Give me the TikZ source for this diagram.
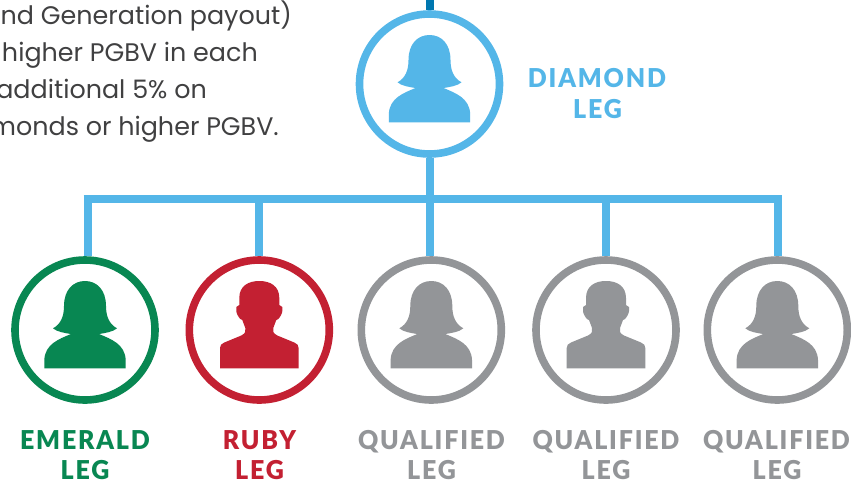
\documentclass[tikz,border=0pt]{standalone}
\usepackage{fontspec}
\setmainfont{Poppins}
\newfontfamily\lblfont[LetterSpace=7,FakeStretch=0.96]{Lato Black}
\definecolor{cblue}{HTML}{54B6E8}
\definecolor{cdark}{HTML}{0077B0}
\definecolor{cgreen}{HTML}{088752}
\definecolor{cred}{HTML}{C32032}
\definecolor{cgray}{HTML}{939598}
\definecolor{ctext}{HTML}{404041}
\tikzset{
  x=1pt,y=-1pt,
  ring/.style={circle,draw=#1,line width=7.6pt,fill=white,minimum size=140pt,inner sep=0pt,outer sep=3.8pt},
  conn/.style={draw=cblue,line width=8pt},
  lbl/.style={text=#1,font=\fontsize{26}{31}\selectfont\lblfont,align=center,anchor=base,inner sep=0pt},
  para/.style={text=ctext,font=\fontsize{25.4}{30}\selectfont,anchor=base east,inner sep=0pt},
  female/.pic={\fill[pic actions] (-40.7,38.3) -- (-40.7,30) .. controls (-40,14) and (-26,9) .. (-14,4) .. controls (-20,3) and (-28,2) .. (-32,-1.7) .. controls (-24,-6) and (-21,-14) .. (-21,-24) .. controls (-21,-40) and (-12,-49) .. (0,-49) .. controls (12,-49) and (21,-40) .. (21,-24) .. controls (21,-14) and (24,-6) .. (32,-1.7) .. controls (28,2) and (20,3) .. (14,4) .. controls (26,9) and (40,14) .. (40.7,30) -- (40.7,38.3) -- cycle;},
  male/.pic={\fill[pic actions] (-39.3,38.3) -- (-39.3,18) .. controls (-39.3,15) and (-38,14) .. (-35,12.5) -- (-18,5.5) .. controls (-14,3.5) and (-13,1) .. (-14,-2) -- (-17,-10) -- (-19,-11) .. controls (-21,-13) and (-23,-17) .. (-23,-19) -- (-23,-23) -- (-20,-25) -- (-20,-32) .. controls (-20,-44) and (-11,-49) .. (0,-49) .. controls (11,-49) and (20,-44) .. (20,-32) -- (20,-25) -- (23,-23) -- (23,-19) .. controls (23,-17) and (21,-13) .. (19,-11) -- (17,-10) -- (14,-2) .. controls (13,1) and (14,3.5) .. (18,5.5) -- (35,12.5) .. controls (38,14) and (39.3,15) .. (39.3,18) -- (39.3,38.3) -- cycle;},
}
\begin{document}
\begin{tikzpicture}
\useasboundingbox (0,0) rectangle (851,483);
\clip (0,0) rectangle (851,483);
% coordinates
\coordinate (top) at (429.5,0);
\coordinate (junction) at (429.5,199);
\coordinate (busL) at (83.5,199);
\coordinate (busR) at (781.7,199);
\coordinate (tE) at (87.5,199);
\coordinate (tR) at (259.3,199);
\coordinate (tQa) at (430,199);
\coordinate (tQb) at (606.3,199);
\coordinate (tQc) at (777.7,199);
% rings
\node[ring=cblue] (diamond) at (429.5,84) {};
\node[ring=cgreen] (emerald) at (85,330) {};
\node[ring=cred] (ruby) at (259.3,330) {};
\node[ring=cgray] (qa) at (431.3,330) {};
\node[ring=cgray] (qb) at (606,330) {};
\node[ring=cgray] (qc) at (777.3,330) {};
% connectors
\draw[conn,draw=cdark] (top) -- (diamond.north);
\draw[conn] (diamond.south) -- (junction);
\draw[conn] (busL) -- (busR);
\draw[conn] (tE) -- (tE |- emerald.north);
\draw[conn] (tR) -- (tR |- ruby.north);
\draw[conn] (tQa) -- (tQa |- qa.north);
\draw[conn] (tQb) -- (tQb |- qb.north);
\draw[conn] (tQc) -- (tQc |- qc.north);
% people
\pic[fill=cblue] at (diamond) {female};
\pic[fill=cgreen] at (emerald) {female};
\pic[fill=cred] at (ruby) {male};
\pic[fill=cgray] at (qa) {female};
\pic[fill=cgray] at (qb) {male};
\pic[fill=cgray] at (qc) {female};
% labels
\node[lbl=cblue] (l1a) at (597,87.5) {DIAMOND};
\node[lbl=cblue] (l1b) at (597.5,118) {LEG};
\node[lbl=cgreen] (l2a) at (85,449) {EMERALD};
\node[lbl=cgreen] (l2b) at (85,479) {LEG};
\node[lbl=cred] (l3a) at (259.5,449) {RUBY};
\node[lbl=cred] (l3b) at (259.5,479) {LEG};
\node[lbl=cgray] (l4a) at (431.5,449) {QUALIFIED};
\node[lbl=cgray] (l4b) at (431.5,479) {LEG};
\node[lbl=cgray] (l5a) at (606,449) {QUALIFIED};
\node[lbl=cgray] (l5b) at (606,479) {LEG};
\node[lbl=cgray] (l6a) at (776.5,449) {QUALIFIED};
\node[lbl=cgray] (l6b) at (777,479) {LEG};
% paragraph
\node[para] (p1) at (292,24) {nd Generation payout)};
\node[para] (p2) at (258,61) {higher PGBV in each};
\node[para] (p3) at (207,98) {additional 5\% on};
\node[para] (p4) at (279,135) {monds or higher PGBV.};
\end{tikzpicture}
\end{document}
